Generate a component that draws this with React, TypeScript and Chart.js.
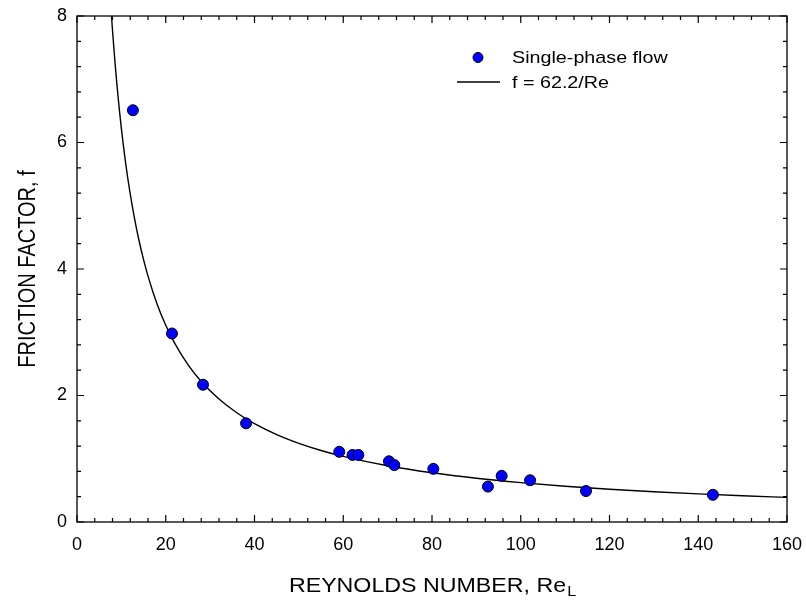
import React, { useEffect, useRef } from 'react';
import { Chart, registerables } from 'chart.js';

Chart.register(...registerables);

// Measured data: Reynolds number and friction factor (single-phase flow)
const RE_DATA = [12.6, 21.4, 28.4, 38.1, 59.1, 62.1, 63.4, 70.3, 71.5, 80.3, 92.6, 95.7, 102.1, 114.7, 143.3];
const F_DATA = [6.51, 2.98, 2.17, 1.56, 1.11, 1.06, 1.06, 0.96, 0.9, 0.84, 0.56, 0.73, 0.66, 0.49, 0.43];

// Correlation curve f = 62.2/Re, tabulated
const CURVE_RE = [7.775, 8, 8.5, 9, 9.5, 10, 11, 12, 13, 14, 15, 16, 18, 20, 22, 25, 28, 32, 36, 40, 45, 50, 55, 60, 70, 80, 90, 100, 110, 120, 130, 140, 150, 160];
const CURVE_F = [8.0, 7.775, 7.318, 6.911, 6.547, 6.22, 5.655, 5.183, 4.785, 4.443, 4.147, 3.888, 3.456, 3.11, 2.827, 2.488, 2.221, 1.944, 1.728, 1.555, 1.382, 1.244, 1.131, 1.037, 0.889, 0.778, 0.691, 0.622, 0.565, 0.518, 0.478, 0.444, 0.415, 0.389];

const X_MIN = 0;
const X_MAX = 160;
const X_STEP = 20;
const X_MINOR = 4;
const Y_MIN = 0;
const Y_MAX = 8;
const Y_STEP = 2;
const Y_MINOR = 0.4;

const X_TITLE = 'REYNOLDS NUMBER, Re';
const X_TITLE_SUB = 'L';
const Y_TITLE = 'FRICTION FACTOR, f';
const LEGEND_POINTS = 'Single-phase flow';
const LEGEND_LINE = 'f = 62.2/Re';

const FONT = '"Liberation Sans", Arial, Helvetica, sans-serif';
const STRETCH = 1.16;

const decorPlugin = {
  id: 'decor',
  beforeDatasetsDraw(chart: any) {
    const { ctx, chartArea: a, scales } = chart;
    const xs = scales.x;
    const ys = scales.y;
    ctx.save();
    ctx.strokeStyle = '#000';
    ctx.lineWidth = 1.3;
    ctx.strokeRect(a.left, a.top, a.right - a.left, a.bottom - a.top);
    ctx.lineWidth = 1.2;
    ctx.beginPath();
    const nx = Math.round((X_MAX - X_MIN) / X_MINOR);
    for (let i = 0; i <= nx; i++) {
      const v = X_MIN + i * X_MINOR;
      const px = xs.getPixelForValue(v);
      const major = Math.abs(v / X_STEP - Math.round(v / X_STEP)) < 1e-6;
      const len = major ? 7 : 4;
      ctx.moveTo(px, a.bottom);
      ctx.lineTo(px, a.bottom - len);
      ctx.moveTo(px, a.top);
      ctx.lineTo(px, a.top + len);
    }
    const ny = Math.round((Y_MAX - Y_MIN) / Y_MINOR);
    for (let i = 0; i <= ny; i++) {
      const v = Y_MIN + i * Y_MINOR;
      const py = ys.getPixelForValue(v);
      const major = Math.abs(v / Y_STEP - Math.round(v / Y_STEP)) < 1e-6;
      const len = major ? 7 : 4;
      ctx.moveTo(a.left, py);
      ctx.lineTo(a.left + len, py);
      ctx.moveTo(a.right, py);
      ctx.lineTo(a.right - len, py);
    }
    ctx.stroke();
    ctx.restore();
  },
  afterDraw(chart: any) {
    const { ctx, chartArea: a } = chart;
    ctx.save();
    ctx.fillStyle = '#000';
    // X title with subscript
    const cx = (a.left + a.right) / 2;
    ctx.font = `20px ${FONT}`;
    const mainW = ctx.measureText(X_TITLE).width;
    ctx.font = `14px ${FONT}`;
    const subW = ctx.measureText(X_TITLE_SUB).width;
    const total = (mainW + subW) * STRETCH;
    ctx.save();
    ctx.translate(cx - total / 2, 592);
    ctx.scale(STRETCH, 1);
    ctx.textBaseline = 'alphabetic';
    ctx.textAlign = 'left';
    ctx.font = `20px ${FONT}`;
    ctx.fillText(X_TITLE, 0, 0);
    ctx.font = `14px ${FONT}`;
    ctx.fillText(X_TITLE_SUB, mainW + 1, 4);
    ctx.restore();

    // Y title rotated
    ctx.save();
    ctx.translate(35, (a.top + a.bottom) / 2);
    ctx.rotate(-Math.PI / 2);
    ctx.scale(1, STRETCH);
    ctx.font = `20px ${FONT}`;
    ctx.textAlign = 'center';
    ctx.textBaseline = 'alphabetic';
    ctx.fillText(Y_TITLE, 0, 0);
    ctx.restore();

    // Legend
    const ds0 = chart.data.datasets[0];
    ctx.beginPath();
    ctx.arc(478, 57.5, 5, 0, Math.PI * 2);
    ctx.fillStyle = ds0.backgroundColor;
    ctx.fill();
    ctx.lineWidth = 1;
    ctx.strokeStyle = '#000';
    ctx.stroke();
    ctx.beginPath();
    ctx.lineWidth = 1.4;
    ctx.moveTo(457, 82);
    ctx.lineTo(500, 82);
    ctx.stroke();
    ctx.fillStyle = '#000';
    ctx.font = `17px ${FONT}`;
    ctx.textBaseline = 'middle';
    ctx.textAlign = 'left';
    ctx.save();
    ctx.translate(512, 58);
    ctx.scale(STRETCH, 1);
    ctx.fillText(LEGEND_POINTS, 0, 0);
    ctx.restore();
    ctx.save();
    ctx.translate(512, 83);
    ctx.scale(STRETCH, 1);
    ctx.fillText(LEGEND_LINE, 0, 0);
    ctx.restore();
    ctx.restore();
  },
};

export default function App() {
  const ref = useRef<HTMLCanvasElement>(null);
  useEffect(() => {
    document.body.style.margin = '0';
    const canvas = ref.current;
    if (!canvas) return;
    const chart = new Chart(canvas, {
      type: 'scatter',
      data: {
        datasets: [
          {
            label: LEGEND_POINTS,
            data: RE_DATA.map((x, i) => ({ x, y: F_DATA[i] })),
            backgroundColor: '#0000ff',
            borderColor: '#000000',
            borderWidth: 1,
            pointRadius: 5.5,
            pointHoverRadius: 5.5,
          },
          {
            label: LEGEND_LINE,
            data: CURVE_RE.map((x, i) => ({ x, y: CURVE_F[i] })),
            showLine: true,
            borderColor: '#000000',
            borderWidth: 1.4,
            pointRadius: 0,
            pointHoverRadius: 0,
            cubicInterpolationMode: 'monotone',
            fill: false,
          } as any,
        ],
      },
      options: {
        animation: false,
        responsive: false,
        maintainAspectRatio: false,
        events: [],
        layout: { padding: { top: 16, right: 19, left: 0, bottom: 0 } },
        plugins: { legend: { display: false }, tooltip: { enabled: false }, title: { display: false } },
        scales: {
          x: {
            type: 'linear',
            min: X_MIN,
            max: X_MAX,
            grid: { display: false, drawTicks: false },
            border: { display: false },
            ticks: { stepSize: X_STEP, color: '#000', font: { family: FONT, size: 18 }, padding: 12, maxRotation: 0 },
            afterFit: (s: any) => { s.height = 82; s.paddingLeft = 0; s.paddingRight = 0; },
          },
          y: {
            type: 'linear',
            min: Y_MIN,
            max: Y_MAX,
            grid: { display: false, drawTicks: false },
            border: { display: false },
            ticks: { stepSize: Y_STEP, color: '#000', font: { family: FONT, size: 18 }, padding: 10 },
            afterFit: (s: any) => { s.width = 77; s.paddingTop = 0; s.paddingBottom = 0; },
          },
        },
      },
      plugins: [decorPlugin],
    } as any);
    return () => chart.destroy();
  }, []);
  return (
    <div style={{ width: 806, height: 604, background: '#fff' }}>
      <canvas ref={ref} width={806} height={604} style={{ display: 'block' }} />
    </div>
  );
}
